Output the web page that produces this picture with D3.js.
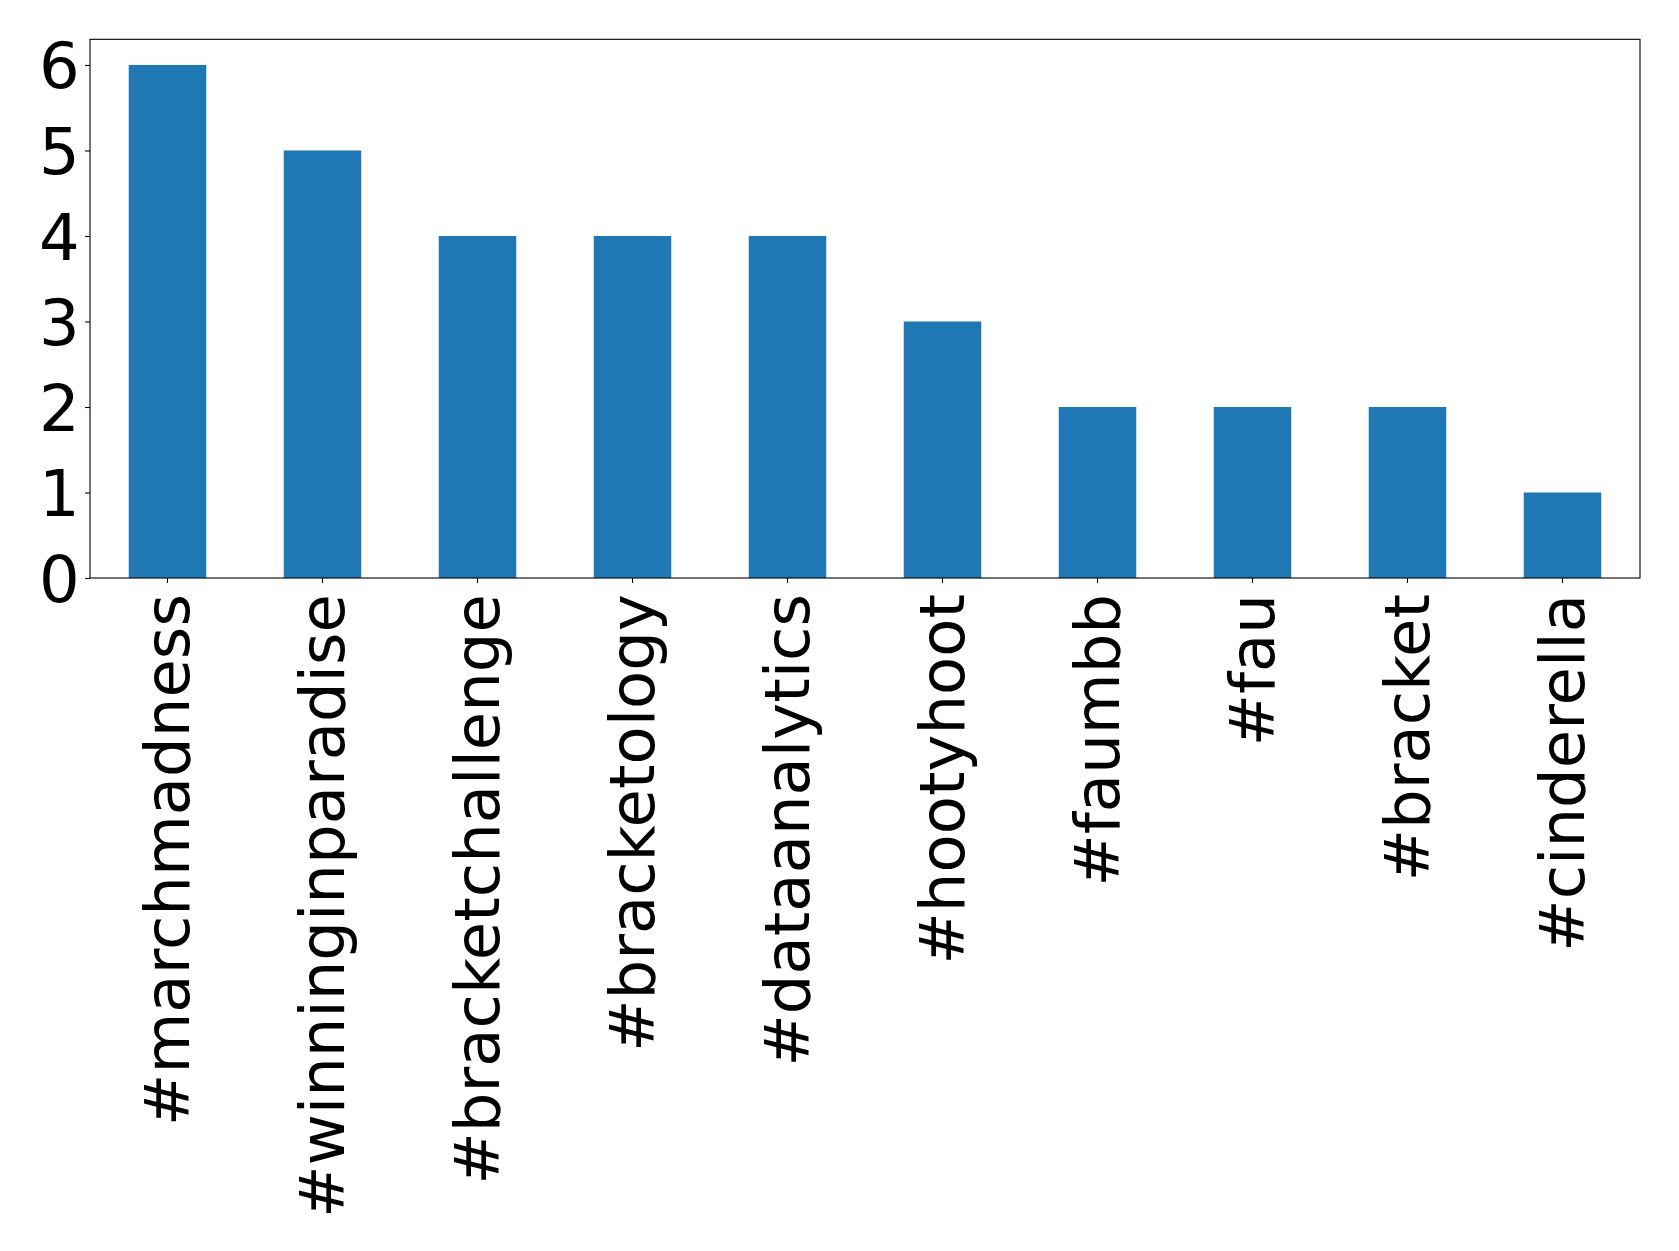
<!DOCTYPE html>
<html>
<head>
<meta charset="utf-8">
<script src="https://cdn.jsdelivr.net/npm/d3@7"></script>
<style>
  html, body { margin: 0; padding: 0; background: #fff; }
  svg { display: block; }
</style>
</head>
<body>
<svg id="chart" width="1679" height="1251"></svg>
<script>
const categories = ["#marchmadness", "#winninginparadise", "#bracketchallenge", "#bracketology", "#dataanalytics", "#hootyhoot", "#faumbb", "#fau", "#bracket", "#cinderella"];
const counts = [6, 5, 4, 4, 4, 3, 2, 2, 2, 1];
const yTicks = [0, 1, 2, 3, 4, 5, 6];

const W = 1679, H = 1251;
const margin = { left: 90, right: 39, top: 39.3, bottom: 673 };
const plotL = margin.left, plotR = W - margin.right, plotT = margin.top, plotB = H - margin.bottom;

const svg = d3.select("#chart");
const font = "DejaVu Sans, sans-serif";
const fsY = 64;
const fsX = 62.5;

const x = d3.scaleBand().domain(categories).range([plotL, plotR]).paddingInner(0.5).paddingOuter(0.25);
const y = d3.scaleLinear().domain([0, 6.3]).range([plotB, plotT]);

svg.append("rect").attr("width", W).attr("height", H).attr("fill", "#fff");

svg.append("g").selectAll("rect").data(categories).join("rect")
  .attr("x", d => x(d))
  .attr("width", x.bandwidth())
  .attr("y", (d, i) => y(counts[i]))
  .attr("height", (d, i) => y(0) - y(counts[i]))
  .attr("fill", "#1f77b4");

// Y axis
const yAxis = d3.axisLeft(y).tickValues(yTicks).tickFormat(d3.format("d")).tickSize(4.9).tickPadding(5.5);
const gy = svg.append("g").attr("transform", `translate(${plotL},0)`).call(yAxis);
gy.select(".domain").remove();
gy.selectAll(".tick line").attr("stroke", "#000").attr("stroke-width", 1.1);
gy.selectAll(".tick text").attr("font-family", font).attr("font-size", fsY).attr("fill", "#000").attr("dy", "0.36em");

// X axis
const xAxis = d3.axisBottom(x).tickSize(4.9).tickPadding(0);
const gx = svg.append("g").attr("transform", `translate(0,${plotB})`).call(xAxis);
gx.select(".domain").remove();
gx.selectAll(".tick line").attr("stroke", "#000").attr("stroke-width", 1.1);
gx.selectAll(".tick text")
  .attr("font-family", font).attr("font-size", fsX).attr("fill", "#000")
  .attr("text-anchor", "end")
  .attr("y", 0).attr("x", 0)
  .attr("dy", "0.35em")
  .attr("transform", "translate(0,16) rotate(-90)");

// Frame
svg.append("rect")
  .attr("x", plotL).attr("y", plotT)
  .attr("width", plotR - plotL).attr("height", plotB - plotT)
  .attr("fill", "none").attr("stroke", "#000").attr("stroke-width", 1.1);
</script>
</body>
</html>
